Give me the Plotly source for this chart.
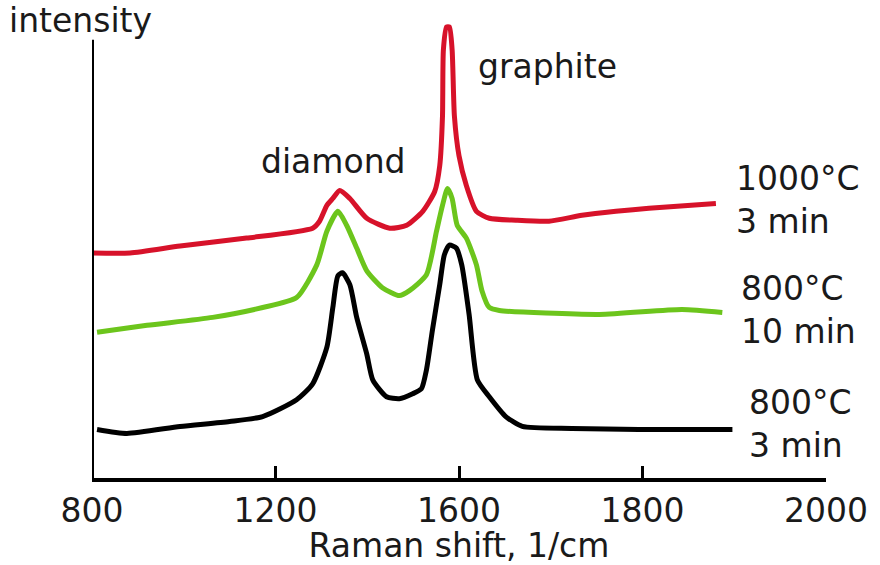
import numpy as np
import plotly.graph_objects as go

# Tick labels of the (hand-drawn, non-uniform) Raman shift axis
tick_labels = [800, 1200, 1600, 1800, 2000]

# Spectra: Raman shift (1/cm) and intensity (arbitrary units)
black_x = [811, 876, 992, 1100, 1172, 1246, 1281, 1312, 1325, 1336, 1346, 1362, 1377, 1399,
           1412, 1442, 1470, 1499, 1518, 1529, 1542, 1558, 1568, 1579, 1594, 1603, 1611,
           1620, 1633, 1651, 1669, 1723, 1796, 1869, 1898]
black_y = [49, 45, 52, 57, 62, 79, 95, 132, 172, 204, 207, 195, 162, 125,
           99, 82, 80, 85, 90, 109, 149, 195, 225, 235, 232, 215, 165,
           99, 82, 62, 52, 50, 49, 49, 49]

green_x = [811, 920, 1063, 1172, 1246, 1290, 1312, 1336, 1355, 1377, 1399, 1433, 1470, 1492,
           1529, 1551, 1564, 1575, 1585, 1596, 1608, 1619, 1625, 1633, 1644, 1753, 1843, 1887]
green_y = [147, 154, 162, 172, 182, 215, 249, 269, 255, 232, 209, 192, 184, 189,
           205, 249, 275, 292, 282, 255, 242, 215, 189, 172, 169, 165, 170, 167]

red_x = [802, 883, 992, 1137, 1281, 1296, 1312, 1325, 1340, 1362, 1399, 1449, 1486, 1521,
         1547, 1558, 1564, 1566, 1573, 1579, 1585, 1590, 1600, 1608, 1619, 1633, 1662,
         1698, 1734, 1771, 1807, 1880]
red_y = [227, 227, 234, 242, 252, 259, 275, 282, 290, 282, 262, 252, 255, 269,
         289, 315, 365, 432, 455, 455, 432, 365, 325, 295, 269, 262, 260,
         259, 265, 269, 272, 277]

series = [
    ("800°C<br>3 min", black_x, black_y, "#000000"),
    ("800°C<br>10 min", green_x, green_y, "#6CC51C"),
    ("1000°C<br>3 min", red_x, red_y, "#D7122A"),
]

# The drawn axis puts its tick labels at equal spacing; map shifts onto it
tick_pos = list(range(len(tick_labels)))


def to_axis(x):
    return np.interp(np.asarray(x, dtype=float), tick_labels, tick_pos)


FONT = "DejaVu Sans"
FS = 33

fig = go.Figure()
for name, xs, ys, col in series:
    fig.add_trace(go.Scatter(
        x=to_axis(xs), y=ys, mode="lines", name=name.replace("<br>", " "),
        line=dict(color=col, width=5, shape="spline", smoothing=0.6),
        hoverinfo="skip", cliponaxis=False,
    ))

fig.update_layout(
    width=880, height=565,
    margin=dict(l=92, r=53, t=20, b=83),
    paper_bgcolor="white", plot_bgcolor="white",
    showlegend=False,
    font=dict(family=FONT, size=FS, color="#1a1a1a"),
    xaxis=dict(
        range=[0, 4], tickvals=tick_pos, ticktext=[str(t) for t in tick_labels],
        ticks="inside", ticklen=12, tickwidth=3, tickcolor="black",
        showline=True, linecolor="black", linewidth=4,
        showgrid=False, zeroline=False,
        tickfont=dict(family=FONT, size=FS, color="#1a1a1a"),
        title=dict(text="Raman shift, 1/cm", standoff=0,
                   font=dict(family=FONT, size=FS, color="#1a1a1a")),
    ),
    yaxis=dict(range=[0, 462], showline=False, showgrid=False, zeroline=False,
               showticklabels=False, ticks=""),
    shapes=[dict(type="line", xref="x", yref="y", x0=0, x1=0, y0=0, y1=442,
                 line=dict(color="black", width=4))],
)

# annotation anchors given in page pixels, converted to plot-area paper coords
w_plot = 880 - 92 - 53
h_plot = 565 - 20 - 83
ann = [
    dict(text="intensity", x=7, y=565 - 21, xanchor="left"),
    dict(text="diamond", x=334, y=565 - 163, xanchor="center"),
    dict(text="graphite", x=548, y=565 - 67, xanchor="center"),
    dict(text="1000°C<br>3 min", x=735, y=565 - 202, xanchor="left"),
    dict(text="800°C<br>10 min", x=740, y=565 - 313, xanchor="left"),
    dict(text="800°C<br>3 min", x=748, y=565 - 428, xanchor="left"),
]
for a in ann:
    fig.add_annotation(
        text=a["text"], x=(a["x"] - 92) / w_plot, y=(a["y"] - 83) / h_plot,
        xref="paper", yref="paper",
        xanchor=a["xanchor"], yanchor="middle", showarrow=False, align="left",
        font=dict(family=FONT, size=FS, color="#1a1a1a"),
    )

fig.write_html("out.html")
